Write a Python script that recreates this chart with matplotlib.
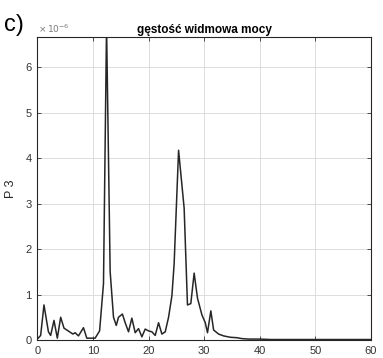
import matplotlib
matplotlib.use("Agg")
import matplotlib.pyplot as plt

plt.rcParams['font.family'] = ['Liberation Sans', 'DejaVu Sans']

# frequency values (x) and power spectral density (units of 1e-6)
freq = [0.0, 0.6, 1.2, 2.0, 2.4, 3.0, 3.6, 4.2, 4.8, 5.8, 6.4, 6.8, 7.4, 8.3, 8.9,
        9.8, 10.4, 11.2, 11.9, 12.45, 13.1, 13.7, 14.2, 14.6, 15.3, 15.8, 16.4, 17.0,
        17.6, 18.2, 18.8, 19.4, 20.0, 20.6, 21.2, 21.8, 22.4, 23.0, 23.6, 24.2, 24.6,
        25.4, 26.4, 27.0, 27.6, 28.2, 28.8, 29.6, 30.2, 30.6, 31.2, 31.7, 32.6, 33.5,
        34.7, 35.9, 36.8, 38.0, 40.0, 42.0, 45.0, 50.0, 55.0, 60.0]
psd = [0.02, 0.1, 0.77, 0.18, 0.1, 0.43, 0.04, 0.5, 0.26, 0.18, 0.13, 0.16, 0.09, 0.27, 0.04,
       0.04, 0.04, 0.2, 1.24, 6.9, 1.5, 0.5, 0.32, 0.5, 0.57, 0.38, 0.18, 0.48,
       0.16, 0.25, 0.07, 0.24, 0.2, 0.18, 0.1, 0.38, 0.13, 0.18, 0.5, 0.97, 1.67,
       4.17, 2.9, 0.77, 0.8, 1.47, 0.92, 0.55, 0.38, 0.16, 0.64, 0.22, 0.13, 0.09,
       0.06, 0.05, 0.03, 0.02, 0.02, 0.01, 0.01, 0.01, 0.01, 0.01]

xticks = [0, 10, 20, 30, 40, 50, 60]
yticks = [0, 1, 2, 3, 4, 5, 6]

fig = plt.figure(figsize=(3.83, 3.58), dpi=100)
ax = fig.add_axes([0.0974, 0.0503, 0.8713, 0.8463])
ax.plot(freq, psd, color='#262626', lw=1.1)
ax.set_xlim(0, 60)
ax.set_ylim(0, 6.66)
ax.set_xticks(xticks)
ax.set_yticks(yticks)
ax.set_xticklabels([str(t) for t in xticks])
ax.set_yticklabels([str(t) for t in yticks])
ax.grid(True, color='#dcdcdc', lw=0.7)
ax.set_axisbelow(True)
ax.tick_params(direction='in', top=True, right=True, labelsize=8, colors='#333333',
               length=3, width=0.6, pad=4)
for s in ax.spines.values():
    s.set_color('#262626')
    s.set_linewidth(0.8)
ax.set_ylabel('P 3', fontsize=9, color='#262626', labelpad=6)
ax.set_title('gęstość widmowa mocy', fontsize=8.5, fontweight='bold', pad=3)
fig.text(0.10, 0.903, r'$\times\,10^{-6}$', fontsize=6.5, color='#7a7a7a', ha='left', va='bottom')
fig.text(0.01, 0.9, 'c)', fontsize=17, ha='left', va='bottom')
fig.savefig('out.png', dpi=100)
